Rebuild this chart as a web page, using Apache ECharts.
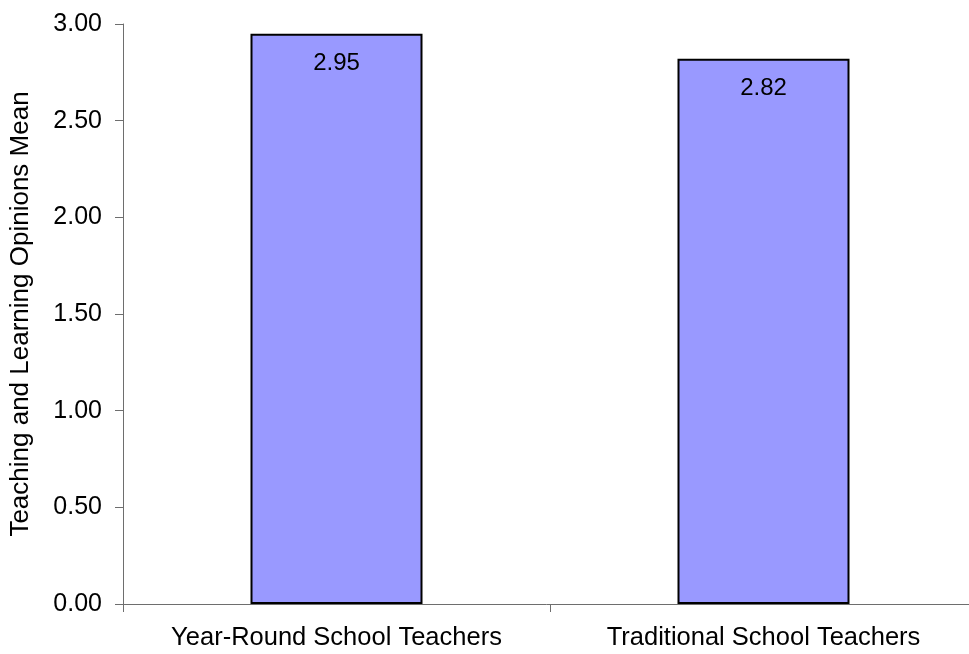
<!DOCTYPE html>
<html>
<head>
<meta charset="utf-8">
<script src="https://cdn.jsdelivr.net/npm/echarts@6/dist/echarts.min.js"></script>
<style>
  html, body { margin: 0; padding: 0; background: #fff; }
  #main { width: 969px; height: 654px; }
</style>
</head>
<body>
<div id="main"></div>
<script>
var categories = ['Year-Round School Teachers', 'Traditional School Teachers'];
var means = [2.95, 2.82];
var yTicks = [0, 0.5, 1, 1.5, 2, 2.5, 3];

var chart = echarts.init(document.getElementById('main'));

var option = {
    animation: false,
    textStyle: { fontFamily: 'Liberation Sans, Arial, sans-serif' },
    // plot area runs a little past the right edge, like the cropped original
    grid: { left: 123, width: 854, top: 24, height: 580, outerBoundsMode: 'none' },
    xAxis: {
        type: 'category',
        data: categories,
        axisLine: { lineStyle: { color: '#6e6e6e', width: 1 } },
        axisTick: { show: true, interval: 0, length: 8, lineStyle: { color: '#6e6e6e' } },
        axisLabel: { color: '#000', fontSize: 25.5, margin: 21, interval: 0 }
    },
    yAxis: {
        type: 'value',
        min: yTicks[0],
        max: yTicks[yTicks.length - 1],
        interval: 0.5,
        name: 'Teaching and Learning Opinions Mean',
        nameLocation: 'middle',
        nameGap: 89,
        nameTextStyle: { color: '#000', fontSize: 26 },
        axisLine: { show: true, lineStyle: { color: '#6e6e6e', width: 1 } },
        axisTick: { show: true, length: 8, lineStyle: { color: '#6e6e6e' } },
        splitLine: { show: false },
        axisLabel: {
            color: '#000',
            fontSize: 25,
            margin: 21,
            formatter: function (v) { return v.toFixed(2); }
        }
    },
    series: [
        {
            type: 'bar',
            data: means,
            barWidth: 172,
            itemStyle: { color: '#9999ff', borderColor: '#000', borderWidth: 2 },
            label: {
                show: true,
                position: 'insideTop',
                distance: 18,
                color: '#000',
                fontSize: 24,
                formatter: function (p) { return p.value.toFixed(2); }
            }
        }
    ]
};

chart.setOption(option);
</script>
</body>
</html>
